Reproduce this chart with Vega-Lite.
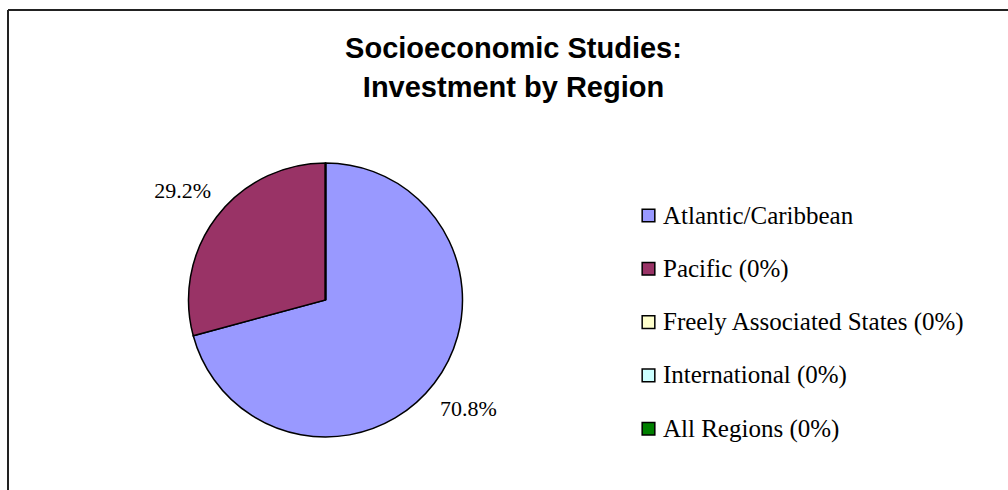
{
  "$schema": "https://vega.github.io/schema/vega-lite/v6.json",
  "padding": {"left": 7, "top": 9, "right": 0, "bottom": 0},
  "background": "white",
  "bounds": "flush",
  "data": {
    "values": [
      {"region": "Atlantic/Caribbean", "share": 0.708},
      {"region": "Pacific (0%)", "share": 0.292},
      {"region": "Freely Associated States (0%)", "share": 0},
      {"region": "International (0%)", "share": 0},
      {"region": "All Regions (0%)", "share": 0}
    ]
  },
  "title": {
    "text": ["Socioeconomic Studies:", "Investment by Region"],
    "font": "Liberation Sans",
    "fontSize": 29,
    "fontWeight": "bold",
    "lineHeight": 39.5,
    "color": "black",
    "anchor": "middle",
    "dx": 3,
    "offset": -94
  },
  "spacing": 0,
  "hconcat": [
    {
      "width": 635,
      "height": 580,
      "view": {"stroke": "#222", "strokeWidth": 2, "strokeDash": [636, 1214, 580, 0]},
      "layer": [
        {
          "mark": {"type": "arc", "outerRadius": 137, "stroke": "black", "strokeWidth": 1.5},
          "encoding": {
            "theta": {"field": "share", "type": "quantitative", "stack": true},
            "order": {"field": "share", "type": "quantitative", "sort": "descending"},
            "color": {
              "field": "region",
              "type": "nominal",
              "scale": {
                "domain": ["Atlantic/Caribbean", "Pacific (0%)", "Freely Associated States (0%)", "International (0%)", "All Regions (0%)"],
                "range": ["#9999FF", "#993366", "#FFFFCC", "#CCFFFF", "#008000"]
              },
              "legend": {
                "title": null,
                "orient": "none",
                "legendX": 628,
                "legendY": 193,
                "padding": 0,
                "symbolType": "square",
                "symbolSize": 160,
                "symbolStrokeColor": "black",
                "symbolStrokeWidth": 1.5,
                "symbolOpacity": 1,
                "labelFont": "Liberation Serif",
                "labelFontSize": 25,
                "labelColor": "black",
                "labelOffset": 2,
                "rowPadding": 27.3,
                "labelLimit": 400
              }
            }
          }
        },
        {
          "transform": [{"filter": "datum.share > 0"}],
          "mark": {"type": "text", "radius": 180, "font": "Liberation Serif", "fontSize": 22, "color": "black"},
          "encoding": {
            "theta": {"field": "share", "type": "quantitative", "stack": true},
            "order": {"field": "share", "type": "quantitative", "sort": "descending"},
            "text": {"field": "share", "type": "quantitative", "format": ".1%"}
          }
        }
      ]
    },
    {
      "width": 370,
      "height": 580,
      "view": {"stroke": "#222", "strokeWidth": 2, "strokeDash": [370, 3000]},
      "mark": {"type": "text"},
      "encoding": {"text": {"value": ""}}
    }
  ]
}
